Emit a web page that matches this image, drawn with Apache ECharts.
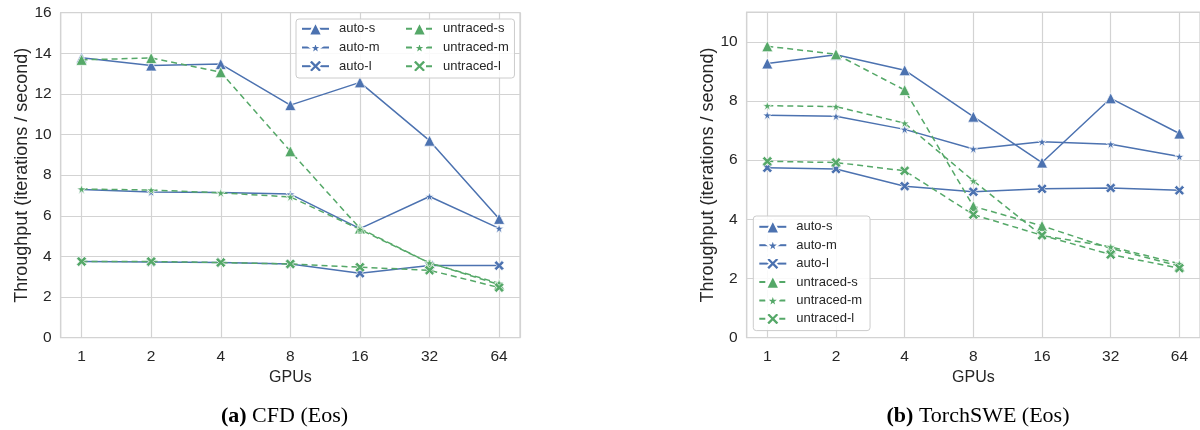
<!DOCTYPE html>
<html>
<head>
<meta charset="utf-8">
<script src="https://cdn.jsdelivr.net/npm/echarts@6/dist/echarts.min.js"></script>
<style>
html,body{margin:0;padding:0;background:#fff;}
#chart{width:1200px;height:430px;}
</style>
</head>
<body>
<div id="chart"></div>
<script>
// ---- data ----
const gpuLabels = ['1', '2', '4', '8', '16', '32', '64'];
const seriesNames = ['auto-s', 'auto-m', 'auto-l', 'untraced-s', 'untraced-m', 'untraced-l'];

// (a) CFD (Eos)
const cfdAutoS = [13.78, 13.40, 13.47, 11.45, 12.57, 9.70, 5.85];
const cfdAutoM = [7.30, 7.17, 7.15, 7.07, 5.37, 6.95, 5.38];
const cfdAutoL = [3.75, 3.73, 3.70, 3.63, 3.17, 3.55, 3.55];
const cfdUntracedS = [13.68, 13.77, 13.07, 9.18, 5.38, 3.68, 2.62];
const cfdUntracedM = [7.32, 7.27, 7.13, 6.93, 5.33, 3.68, 2.68];
const cfdUntracedL = [3.75, 3.75, 3.70, 3.63, 3.47, 3.32, 2.47];

// (b) TorchSWE (Eos)
const sweAutoS = [9.27, 9.56, 9.04, 7.47, 5.92, 8.09, 6.90];
const sweAutoM = [7.52, 7.48, 7.04, 6.38, 6.62, 6.54, 6.12];
const sweAutoL = [5.74, 5.70, 5.12, 4.93, 5.03, 5.06, 4.98];
const sweUntracedS = [9.85, 9.58, 8.37, 4.44, 3.78, 3.02, 2.42];
const sweUntracedM = [7.84, 7.81, 7.25, 5.30, 3.45, 3.07, 2.50];
const sweUntracedL = [5.96, 5.92, 5.64, 4.16, 3.46, 2.81, 2.35];

const yTicksCfd = [0, 2, 4, 6, 8, 10, 12, 14, 16];
const yTicksSwe = [0, 2, 4, 6, 8, 10];

// ---- styling ----
const BLUE = '#4c72b0', GREEN = '#55a868', GRIDC = '#d3d3d3', TXT = '#262626';
const FONT = '"Liberation Sans", Arial, sans-serif';
const SERIF = '"Liberation Serif", "Times New Roman", serif';
const STAR = 'path://M50,0 L61.8,35.4 L98.9,35.4 L69,57.3 L80.3,92.7 L50,70.8 L19.7,92.7 L31,57.3 L1.1,35.4 L38.2,35.4 Z';
const XMARK = 'path://M22,0 L50,28 L78,0 L100,22 L72,50 L100,78 L78,100 L50,72 L22,100 L0,78 L28,50 L0,22 Z';
const symbols = {s: ['triangle', 11], m: [STAR, 9], l: [XMARK, 10]};

function mkSeries(name, values, idx) {
  const auto = name.startsWith('auto');
  const sz = name.slice(-1);
  const c = auto ? BLUE : GREEN;
  return {
    name: name,
    type: 'line',
    xAxisIndex: idx, yAxisIndex: idx,
    data: values.map((v, i) => [i, v]),
    symbol: symbols[sz][0],
    symbolSize: symbols[sz][1],
    showAllSymbol: true,
    color: c,
    lineStyle: {width: 1.5, type: auto ? 'solid' : [6, 4], color: c},
    itemStyle: {color: c, borderColor: '#fff', borderWidth: 0.7},
    emphasis: {disabled: true},
    animation: false,
    z: auto ? 3 : 4
  };
}

function xAxisDef(idx) {
  return {
    type: 'value', gridIndex: idx, min: -0.3, max: 6.3, splitNumber: 7,
    name: 'GPUs', nameLocation: 'middle', nameGap: 27,
    nameTextStyle: {fontFamily: FONT, fontSize: 16, color: TXT},
    axisLine: {show: false}, axisTick: {show: false},
    axisLabel: {
      margin: 11, fontFamily: FONT, fontSize: 15.5, color: TXT,
      showMinLabel: false, showMaxLabel: false,
      formatter: v => (Number.isInteger(v) && v >= 0 && v < gpuLabels.length) ? gpuLabels[v] : ''
    },
    splitLine: {show: true, lineStyle: {color: GRIDC, width: 1.2}}
  };
}

function yAxisDef(idx, max, ticks) {
  return {
    type: 'value', gridIndex: idx, min: 0, max: max, interval: 2,
    name: 'Throughput (iterations / second)', nameLocation: 'middle', nameGap: 30,
    nameTextStyle: {fontFamily: FONT, fontSize: 18, color: TXT},
    axisLine: {show: false}, axisTick: {show: false},
    axisLabel: {
      margin: 9, fontFamily: FONT, fontSize: 15.5, color: TXT,
      formatter: v => ticks.indexOf(v) >= 0 ? String(v) : ''
    },
    splitLine: {show: true, lineStyle: {color: GRIDC, width: 1.2}}
  };
}

const legendText = {fontFamily: FONT, fontSize: 13, color: TXT, padding: [0, 0, 0, 5]};
const legendBox = {backgroundColor: 'rgba(255,255,255,0.85)', borderColor: '#cccccc', borderWidth: 1, borderRadius: 3};

const option = {
  backgroundColor: '#fff',
  animation: false,
  grid: [
    {left: 60.7, top: 12.7, width: 459.3, height: 325, show: true, borderColor: GRIDC, borderWidth: 1.3, backgroundColor: 'transparent'},
    {left: 746.7, top: 12.2, width: 457.4, height: 325.5, show: true, borderColor: GRIDC, borderWidth: 1.3, backgroundColor: 'transparent'}
  ],
  xAxis: [xAxisDef(0), xAxisDef(1)],
  yAxis: [yAxisDef(0, 16, yTicksCfd), yAxisDef(1, 11, yTicksSwe)],
  legend: [
    Object.assign({
      orient: 'vertical', left: 296, top: 19,
      padding: [2, 135, 4, 5], itemGap: 3.1, itemWidth: 27, itemHeight: 17,
      textStyle: legendText,
      data: seriesNames.slice(0, 3), z: 5
    }, legendBox),
    {
      orient: 'vertical', left: 405, top: 21,
      padding: 0, itemGap: 3.1, itemWidth: 27, itemHeight: 17,
      textStyle: legendText,
      data: seriesNames.slice(3), z: 6
    },
    Object.assign({
      orient: 'vertical', left: 753.3, top: 216,
      padding: [3, 8, 4, 5], itemGap: 2.8, itemWidth: 27, itemHeight: 17,
      textStyle: legendText,
      data: seriesNames, z: 5
    }, legendBox)
  ],
  graphic: [
    {
      type: 'text', x: 284.5, y: 416,
      style: {
        text: '{b|(a)} CFD (Eos)', textAlign: 'center', textVerticalAlign: 'middle',
        fontFamily: SERIF, fontSize: 22, fill: '#000',
        rich: {b: {fontFamily: SERIF, fontSize: 22, fontWeight: 'bold', fill: '#000'}}
      }
    },
    {
      type: 'text', x: 978, y: 416,
      style: {
        text: '{b|(b)} TorchSWE (Eos)', textAlign: 'center', textVerticalAlign: 'middle',
        fontFamily: SERIF, fontSize: 22, fill: '#000',
        rich: {b: {fontFamily: SERIF, fontSize: 22, fontWeight: 'bold', fill: '#000'}}
      }
    }
  ],
  series: [
    mkSeries('auto-s', cfdAutoS, 0),
    mkSeries('auto-m', cfdAutoM, 0),
    mkSeries('auto-l', cfdAutoL, 0),
    mkSeries('untraced-s', cfdUntracedS, 0),
    mkSeries('untraced-m', cfdUntracedM, 0),
    mkSeries('untraced-l', cfdUntracedL, 0),
    mkSeries('auto-s', sweAutoS, 1),
    mkSeries('auto-m', sweAutoM, 1),
    mkSeries('auto-l', sweAutoL, 1),
    mkSeries('untraced-s', sweUntracedS, 1),
    mkSeries('untraced-m', sweUntracedM, 1),
    mkSeries('untraced-l', sweUntracedL, 1)
  ]
};

const chart = echarts.init(document.getElementById('chart'), null, {renderer: 'canvas'});
chart.setOption(option);
</script>
</body>
</html>
